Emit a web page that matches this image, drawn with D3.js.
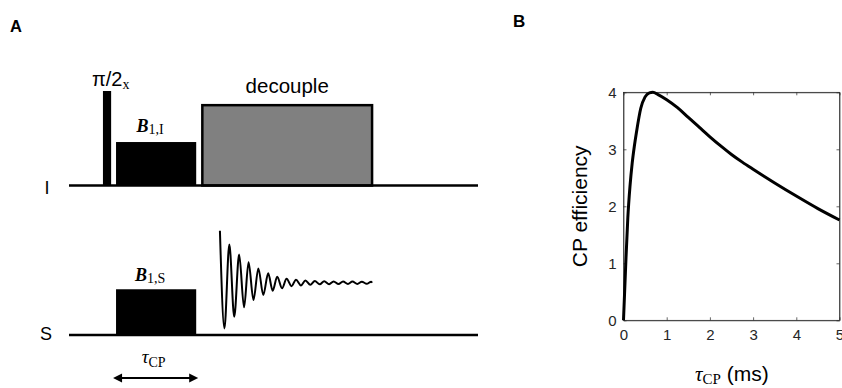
<!DOCTYPE html>
<html>
<head>
<meta charset="utf-8">
<script src="https://cdn.jsdelivr.net/npm/d3@7"></script>
<style>
  html, body { margin: 0; padding: 0; background: #fff; }
  svg { display: block; }
</style>
</head>
<body>
<svg id="fig" width="842" height="388"></svg>
<script>
// ---- Panel A: cross-polarization pulse sequence (schematic units) ----
const channels = ["I", "S"];
// pulse blocks: time span (0-100 timeline units) and amplitude level (0-100)
const pulsesI = [
  { name: "pi2", start: 8.3, end: 10.3, level: 100, fill: "#000" },
  { name: "B1I", start: 11.5, end: 31.1, level: 46, fill: "#000" },
  { name: "decouple", start: 32.6, end: 74.1, level: 85, fill: "#808080" }
];
const pulsesS = [
  { name: "B1S", start: 11.5, end: 31.1, level: 48.4, fill: "#000" }
];
// free induction decay: extrema times and signed amplitudes about its centre level
const fidCenter = 55.3;
const fidTimes = [36.9, 38.0, 39.2, 40.4, 41.6, 42.8, 43.9, 45.1, 46.3, 47.5, 48.7,
  49.8, 50.9, 52.1, 53.2, 54.4, 55.5, 56.7, 57.8, 59.0, 60.1, 61.3, 62.4, 63.6,
  64.7, 65.9, 67.0, 68.2, 69.3, 70.5, 71.6, 72.8, 73.9];
const fidAmps = [55, -48.3, 40.6, -36, 30, -26, 21.6, -18.3, 15.2, -13, 10, -8.5,
  6.3, -5.9, 4.2, -3.6, 3.2, -2.8, 2.4, -2.1, 1.9, -1.7, 1.6, -1.5, 1.4, -1.4,
  1.3, -1.3, 1.2, -1.2, 1.1, -1.1, 1.1];

// ---- Panel B: CP efficiency versus contact time ----
const cpTime = [0, 0.05, 0.1, 0.15, 0.2, 0.25, 0.3, 0.4, 0.5, 0.6, 0.68, 0.8, 1.0,
  1.25, 1.5, 1.75, 2.0, 2.25, 2.5, 2.75, 3.0, 3.5, 4.0, 4.5, 5.0];
const cpEff = [0, 0.95, 1.8, 2.35, 2.75, 3.05, 3.3, 3.72, 3.92, 3.99, 4.0, 3.96, 3.87,
  3.73, 3.56, 3.39, 3.22, 3.06, 2.91, 2.775, 2.65, 2.41, 2.18, 1.96, 1.76];
const xTicks = [0, 1, 2, 3, 4, 5];
const yTicks = [0, 1, 2, 3, 4];

const SANS = "'Liberation Sans', Arial, Helvetica, sans-serif";
const SERIF = "'Liberation Serif', 'Times New Roman', serif";

const svg = d3.select("#fig");

// ======================= Panel A =======================
const gA = svg.append("g");
const t = d3.scaleLinear().domain([0, 100]).range([69, 478]);
const lvl = d3.scaleLinear().domain([0, 100]).range([0, 94.5]);
const base = d3.scaleOrdinal().domain(channels).range([185.5, 335]);

gA.append("text").attr("x", 10).attr("y", 32)
  .attr("font-family", SANS).attr("font-weight", "bold").attr("font-size", 16.5)
  .text("A");

// channel labels
gA.selectAll("text.ch").data(channels).join("text").attr("class", "ch")
  .attr("x", d => d === "I" ? 44.5 : 40)
  .attr("y", d => base(d) + (d === "I" ? 8.5 : 5))
  .attr("font-family", SANS).attr("font-size", 18)
  .text(d => d);

function drawPulses(list, ch) {
  gA.selectAll(null).data(list).join("rect")
    .attr("x", d => t(d.start))
    .attr("width", d => t(d.end) - t(d.start))
    .attr("y", d => base(ch) - lvl(d.level))
    .attr("height", d => lvl(d.level))
    .attr("fill", d => d.fill)
    .attr("stroke", d => d.name === "decouple" ? "#000" : "none")
    .attr("stroke-width", 2.5);
}
drawPulses(pulsesI, "I");
drawPulses(pulsesS, "S");

// channel baselines
gA.selectAll("line.base").data(channels).join("line").attr("class", "base")
  .attr("x1", t(0)).attr("x2", t(100))
  .attr("y1", d => base(d)).attr("y2", d => base(d))
  .attr("stroke", "#000").attr("stroke-width", 2.5);

// FID on the S channel
const fidPts = fidTimes.map((tt, i) => [tt, fidAmps[i]]);
fidPts.push([74.1, 0]);
const fidLine = d3.line()
  .x(d => t(d[0]))
  .y(d => base("S") - lvl(fidCenter + d[1]))
  .curve(d3.curveMonotoneX);
gA.append("path").attr("d", fidLine(fidPts))
  .attr("fill", "none").attr("stroke", "#000").attr("stroke-width", 2)
  .attr("stroke-linejoin", "round");

// pulse labels
const pi2 = pulsesI[0], cpI = pulsesI[1], dec = pulsesI[2], cpS = pulsesS[0];
const pl = gA.append("text").attr("x", t(pi2.start) - 11).attr("y", base("I") - lvl(pi2.level) - 5)
  .attr("font-family", SANS).attr("font-size", 20);
pl.append("tspan").text("π/2");
pl.append("tspan").attr("font-family", SERIF).attr("font-size", 14).attr("dy", 2.5).text("x");

gA.append("text").attr("x", (t(dec.start) + t(dec.end)) / 2).attr("y", base("I") - lvl(dec.level) - 12)
  .attr("text-anchor", "middle").attr("font-family", SANS).attr("font-size", 20.5)
  .text("decouple");

function bLabel(x, y, sub) {
  const tx = gA.append("text").attr("x", x).attr("y", y).attr("font-family", SERIF);
  tx.append("tspan").attr("font-style", "italic").attr("font-weight", "bold").attr("font-size", 18).text("B");
  tx.append("tspan").attr("font-size", 14).attr("dy", 2).text(sub);
}
bLabel(t(cpI.start) + 20.5, base("I") - lvl(cpI.level) - 10, "1,I");
bLabel(t(cpS.start) + 19, base("S") - lvl(cpS.level) - 8.5, "1,S");

// contact-time arrow below the S channel
const ay = 378, ax1 = t(cpS.start) - 3, ax2 = t(cpS.end) + 2, ah = 9, aw = 4.5;
gA.append("line").attr("x1", ax1 + ah - 1).attr("x2", ax2 - ah + 1).attr("y1", ay).attr("y2", ay)
  .attr("stroke", "#000").attr("stroke-width", 2);
gA.append("path").attr("d", `M${ax1},${ay}L${ax1 + ah},${ay - aw}L${ax1 + ah},${ay + aw}Z`).attr("fill", "#000");
gA.append("path").attr("d", `M${ax2},${ay}L${ax2 - ah},${ay - aw}L${ax2 - ah},${ay + aw}Z`).attr("fill", "#000");
const tl = gA.append("text").attr("x", (ax1 + ax2) / 2 - 2).attr("y", 363)
  .attr("text-anchor", "middle").attr("font-family", SERIF);
tl.append("tspan").attr("font-style", "italic").attr("font-size", 19).text("τ");
tl.append("tspan").attr("font-size", 14).attr("dy", 3.5).text("CP");

// ======================= Panel B =======================
const gB = svg.append("g");
const x = d3.scaleLinear().domain([0, 5]).range([623.5, 839.5]);
const y = d3.scaleLinear().domain([0, 4]).range([320.3, 92.3]);
const AX = "#262626";

gB.append("text").attr("x", 513).attr("y", 27)
  .attr("font-family", SANS).attr("font-weight", "bold").attr("font-size", 17)
  .text("B");

// axes box
gB.append("rect").attr("x", x(0)).attr("y", y(4))
  .attr("width", x(5) - x(0)).attr("height", y(0) - y(4))
  .attr("fill", "none").attr("stroke", AX).attr("stroke-width", 0.7);

const tickLen = 3;
const fmt = d3.format("d");
const xAxis = gB.append("g").attr("transform", `translate(0,${y(0)})`)
  .call(d3.axisBottom(x).tickValues(xTicks).tickFormat(fmt).tickSizeInner(-tickLen).tickSizeOuter(0).tickPadding(9));
const yAxis = gB.append("g").attr("transform", `translate(${x(0)},0)`)
  .call(d3.axisLeft(y).tickValues(yTicks).tickFormat(fmt).tickSizeInner(-tickLen).tickSizeOuter(0).tickPadding(7));
const xTop = gB.append("g").attr("transform", `translate(0,${y(4)})`)
  .call(d3.axisTop(x).tickValues(xTicks).tickSizeInner(-tickLen).tickSizeOuter(0).tickFormat(""));
const yRight = gB.append("g").attr("transform", `translate(${x(5)},0)`)
  .call(d3.axisRight(y).tickValues(yTicks).tickSizeInner(-tickLen).tickSizeOuter(0).tickFormat(""));
[xAxis, yAxis, xTop, yRight].forEach(a => {
  a.select(".domain").attr("stroke", AX).attr("stroke-width", 0.7);
  a.selectAll(".tick line").attr("stroke", AX).attr("stroke-width", 0.7);
  a.selectAll(".tick text").attr("fill", AX).attr("font-family", SANS).attr("font-size", 15);
});

// efficiency curve
const effLine = d3.line().x((d, i) => x(cpTime[i])).y(d => y(d)).curve(d3.curveMonotoneX);
gB.append("path").attr("d", effLine(cpEff))
  .attr("fill", "none").attr("stroke", "#000").attr("stroke-width", 3)
  .attr("stroke-linejoin", "round");

// axis titles
gB.append("text")
  .attr("transform", `translate(587,${(y(0) + y(4)) / 2}) rotate(-90)`)
  .attr("text-anchor", "middle").attr("font-family", SANS).attr("font-size", 21).attr("fill", "#000")
  .text("CP efficiency");
const xl = gB.append("text").attr("x", 695).attr("y", 381).attr("font-family", SANS).attr("font-size", 21);
xl.append("tspan").attr("font-family", SERIF).attr("font-style", "italic").attr("font-size", 21).text("τ");
xl.append("tspan").attr("font-family", SERIF).attr("font-size", 15).attr("dy", 3).text("CP");
xl.append("tspan").attr("dy", -3).text(" (ms)");
</script>
</body>
</html>
